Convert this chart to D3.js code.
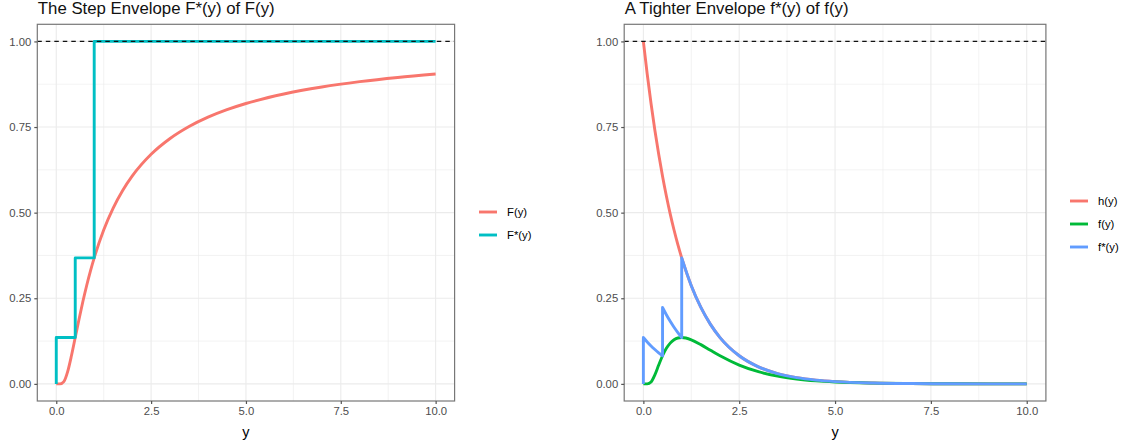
<!DOCTYPE html>
<html>
<head>
<meta charset="utf-8">
<script src="https://cdn.jsdelivr.net/npm/d3@7"></script>
<style>
  body { margin: 0; background: #fff; }
  text { font-family: "Liberation Sans", Arial, sans-serif; }
</style>
</head>
<body>
<div id="chart"></div>
<script>
// sample points on y
var ySamples = [0, 0.1, 0.2, 0.3, 0.4, 0.5, 0.6, 0.7, 0.8, 0.9, 1, 1.25, 1.5, 1.75, 2, 2.5, 3, 3.5, 4, 4.5, 5, 6, 7, 8, 9, 10];
// left panel
var cdfF = [0, 0.00005, 0.0067, 0.0357, 0.0821, 0.1353, 0.1889, 0.2397, 0.2865, 0.3292, 0.3679, 0.4493, 0.5134, 0.5647, 0.6065, 0.6703, 0.7165, 0.7515, 0.7788, 0.8007, 0.8187, 0.8465, 0.8669, 0.8825, 0.8948, 0.9048];
var stepX = [0, 0, 0.5, 1, 10];
var stepY = [0, 0.1353, 0.3679, 1, 1];
// right panel
var hVals = [1, 0.9048, 0.8187, 0.7408, 0.6703, 0.6065, 0.5488, 0.4966, 0.4493, 0.4066, 0.3679, 0.2865, 0.2231, 0.1738, 0.1353, 0.0821, 0.0498, 0.0302, 0.0183, 0.0111, 0.0067, 0.0025, 0.0009, 0.0003, 0.0001, 0];
var fVals = [0, 0.00004, 0.0055, 0.0264, 0.0550, 0.0821, 0.1037, 0.1190, 0.1287, 0.1339, 0.1353, 0.1287, 0.1146, 0.0982, 0.0821, 0.0550, 0.0357, 0.0227, 0.0143, 0.0089, 0.0055, 0.0021, 0.0008, 0.0003, 0.0001, 0];
var fStarX = [0, 0, 0.1, 0.2, 0.3, 0.4, 0.5, 0.5, 0.6, 0.7, 0.8, 0.9, 1, 1, 1.25, 1.5, 1.75, 2, 2.5, 3, 3.5, 4, 4.5, 5, 6, 7, 8, 9, 10];
var fStarY = [0, 0.1353, 0.1225, 0.1108, 0.1003, 0.0907, 0.0821, 0.2231, 0.2019, 0.1827, 0.1653, 0.1496, 0.1353, 0.3679, 0.2865, 0.2231, 0.1738, 0.1353, 0.0821, 0.0498, 0.0302, 0.0183, 0.0111, 0.0067, 0.0025, 0.0009, 0.0003, 0.0001, 0];

var xTicks = [0, 2.5, 5, 7.5, 10];
var yTicks = [0, 0.25, 0.5, 0.75, 1];

var width = 1128, height = 444;
var svg = d3.select('#chart').append('svg').attr('width', width).attr('height', height);

var panelTop = 24.3, panelBottom = 401;

function panel(opts) {
    var x = d3.scaleLinear().domain([-0.5, 10.5]).range([opts.left, opts.right]);
    var y = d3.scaleLinear().domain([-0.05, 1.05]).range([panelBottom, panelTop]);
    var g = svg.append('g');

    // grid
    var xMinor = xTicks.slice(0, -1).map(d => d + 1.25);
    var yMinor = yTicks.slice(0, -1).map(d => d + 0.125);
    g.selectAll('.vminor').data(xMinor).enter().append('line')
        .attr('x1', d => x(d)).attr('x2', d => x(d)).attr('y1', panelTop).attr('y2', panelBottom)
        .attr('stroke', '#ebebeb').attr('stroke-width', 0.6);
    g.selectAll('.hminor').data(yMinor).enter().append('line')
        .attr('y1', d => y(d)).attr('y2', d => y(d)).attr('x1', opts.left).attr('x2', opts.right)
        .attr('stroke', '#ebebeb').attr('stroke-width', 0.6);
    g.selectAll('.vmajor').data(xTicks).enter().append('line')
        .attr('x1', d => x(d)).attr('x2', d => x(d)).attr('y1', panelTop).attr('y2', panelBottom)
        .attr('stroke', '#ebebeb').attr('stroke-width', 1.1);
    g.selectAll('.hmajor').data(yTicks).enter().append('line')
        .attr('y1', d => y(d)).attr('y2', d => y(d)).attr('x1', opts.left).attr('x2', opts.right)
        .attr('stroke', '#ebebeb').attr('stroke-width', 1.1);

    var line = d3.line().x(d => x(d[0])).y(d => y(d[1]));
    opts.series.forEach(function (s) {
        var path;
        if (s.step) {
            path = line.curve(d3.curveStepAfter)(d3.zip(s.x, s.y));
        } else {
            // split where x repeats, join the pieces with vertical jumps
            var pieces = [], cur = [];
            s.x.forEach(function (v, i) {
                if (cur.length && cur[cur.length - 1][0] === v) { pieces.push(cur); cur = []; }
                cur.push([v, s.y[i]]);
            });
            pieces.push(cur);
            line.curve(d3.curveMonotoneX);
            path = pieces.map(function (p, i) {
                var str = p.length > 1 ? line(p) : 'M' + x(p[0][0]) + ',' + y(p[0][1]);
                return i ? 'L' + str.slice(1) : str;
            }).join('');
        }
        g.append('path').attr('d', path).attr('fill', 'none')
            .attr('stroke', s.color).attr('stroke-width', 2.9)
            .attr('stroke-linejoin', 'round').attr('stroke-linecap', 'butt');
    });

    // dashed hline at 1
    g.append('line').attr('x1', opts.left).attr('x2', opts.right)
        .attr('y1', y(1)).attr('y2', y(1))
        .attr('stroke', '#111').attr('stroke-width', 1.1).attr('stroke-dasharray', '4.5,4');

    // border
    g.append('rect').attr('x', opts.left).attr('y', panelTop)
        .attr('width', opts.right - opts.left).attr('height', panelBottom - panelTop)
        .attr('fill', 'none').attr('stroke', '#777').attr('stroke-width', 1.2);

    // axes
    var xAxis = g.append('g').attr('transform', `translate(0,${panelBottom})`)
        .call(d3.axisBottom(x).tickValues(xTicks).tickFormat(d3.format('.1f')).tickSizeInner(3).tickSizeOuter(0).tickPadding(3));
    var yAxis = g.append('g').attr('transform', `translate(${opts.left},0)`)
        .call(d3.axisLeft(y).tickValues(yTicks).tickFormat(d3.format('.2f')).tickSizeInner(3).tickSizeOuter(0).tickPadding(3));
    [xAxis, yAxis].forEach(function (a) {
        a.select('.domain').remove();
        a.selectAll('line').attr('stroke', '#555').attr('stroke-width', 1.2);
        a.selectAll('text').attr('fill', '#4d4d4d').style('font-size', '11.3px')
            .style('font-family', '"Liberation Sans", Arial, sans-serif');
    });

    g.append('text').text('y').attr('x', (opts.left + opts.right) / 2).attr('y', 437)
        .attr('text-anchor', 'middle').style('font-size', '14.5px').attr('fill', '#000');
    g.append('text').text(opts.title).attr('x', opts.left + 0.5).attr('y', 14)
        .style('font-size', '16.8px').attr('fill', '#111');

    // legend
    var leg = g.append('g');
    opts.series.forEach(function (s, i) {
        var ly = opts.legendTop + i * 23;
        leg.append('line').attr('x1', opts.legendX).attr('x2', opts.legendX + 18)
            .attr('y1', ly).attr('y2', ly).attr('stroke', s.color).attr('stroke-width', 2.9);
        leg.append('text').text(s.name).attr('x', opts.legendX + 28).attr('y', ly + 4)
            .style('font-size', '11.3px').attr('fill', '#000');
    });
}

panel({
    left: 37.3, right: 454.6,
    title: 'The Step Envelope F*(y) of F(y)',
    legendX: 479, legendTop: 212,
    series: [
        { name: 'F(y)', color: '#F8766D', x: ySamples, y: cdfF },
        { name: 'F*(y)', color: '#00BFC4', x: stepX, y: stepY, step: true }
    ]
});

panel({
    left: 624.2, right: 1045.9,
    title: 'A Tighter Envelope f*(y) of f(y)',
    legendX: 1070, legendTop: 201,
    series: [
        { name: 'h(y)', color: '#F8766D', x: ySamples, y: hVals },
        { name: 'f(y)', color: '#00BA38', x: ySamples, y: fVals },
        { name: 'f*(y)', color: '#619CFF', x: fStarX, y: fStarY }
    ]
});
</script>
</body>
</html>
